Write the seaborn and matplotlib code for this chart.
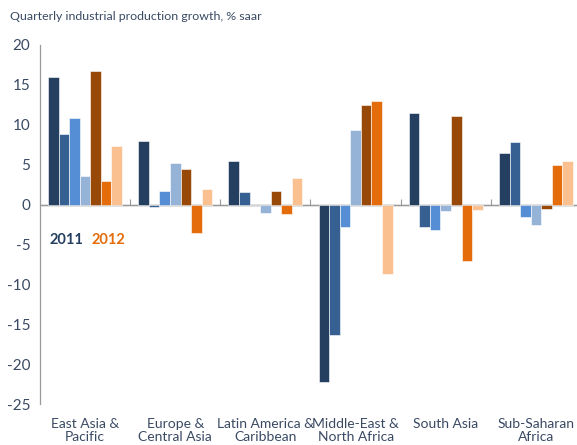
import matplotlib
matplotlib.use("Agg")
import matplotlib.pyplot as plt
import seaborn as sns
import pandas as pd

regions = ["East Asia &\nPacific", "Europe &\nCentral Asia", "Latin America &\nCaribbean",
           "Middle-East &\nNorth Africa", "South Asia", "Sub-Saharan\nAfrica"]
quarters = ["Q1 2011", "Q2 2011", "Q3 2011", "Q4 2011", "Q1 2012", "Q2 2012", "Q3 2012"]
q1_2011 = [16.0, 8.0, 5.5, -22.2, 11.5, 6.5]
q2_2011 = [8.8, -0.3, 1.6, -16.3, -2.8, 7.9]
q3_2011 = [10.8, 1.7, -0.1, -2.8, -3.2, -1.6]
q4_2011 = [3.6, 5.2, -1.0, 9.4, -0.8, -2.6]
q1_2012 = [16.7, 4.5, 1.7, 12.5, 11.1, -0.6]
q2_2012 = [2.9, -3.6, -1.2, 13.0, -7.1, 4.9]
q3_2012 = [7.3, 1.9, 3.3, -8.7, -0.7, 5.4]
colors = ["#243F60", "#366092", "#558ED5", "#95B3D7", "#984807", "#E46C0A", "#FAC090"]
yticks = [20, 15, 10, 5, 0, -5, -10, -15, -20, -25]
title = "Quarterly industrial production growth, % saar"

series = [q1_2011, q2_2011, q3_2011, q4_2011, q1_2012, q2_2012, q3_2012]
rows = []
for q, vals in zip(quarters, series):
    for r, v in zip(regions, vals):
        rows.append({"region": r, "quarter": q, "value": v})
df = pd.DataFrame(rows)

sns.set_style("white")
plt.rcParams["font.family"] = ["Lato", "DejaVu Sans"]
plt.rcParams["axes.unicode_minus"] = False
txt = "#3A4A63"

fig = plt.figure(figsize=(5.77, 4.45), dpi=100)
ax = fig.add_axes([40/577, 1-404/445, 541/577, (404-45)/445])
sns.barplot(data=df, x="region", y="value", hue="quarter", order=regions,
            hue_order=quarters, palette=colors, saturation=1, width=0.82, gap=0,
            edgecolor="white", linewidth=0.4, legend=False, ax=ax)

ax.set_xlim(-0.5, len(regions) - 0.5)
ax.set_ylim(-25, 20)
ax.set_yticks(yticks)
ax.set_yticklabels([str(v) for v in yticks])
ax.tick_params(axis="y", labelsize=11, colors="#888888", labelcolor=txt,
               length=4, width=0.8, direction="out", pad=3)
ax.tick_params(axis="x", labelsize=10, labelcolor=txt, length=0, pad=10)
for lab in ax.get_yticklabels():
    lab.set_color(txt)
for lab in ax.get_xticklabels():
    lab.set_linespacing(1.15)
ax.set_xlabel("")
ax.set_ylabel("")
for s in ["top", "right", "bottom"]:
    ax.spines[s].set_visible(False)
ax.spines["left"].set_color("#9a9a9a")
ax.spines["left"].set_linewidth(0.9)
ax.axhline(0, color="#9a9a9a", lw=1.0, zorder=0.5)

# group-boundary ticks on the zero line
sec = ax.secondary_xaxis(25/45)
sec.set_xticks([i + 0.5 for i in range(len(regions))])
sec.set_xticklabels([])
sec.tick_params(length=4, width=0.8, color="#9a9a9a", direction="out")
sec.spines["bottom"].set_visible(False)

fig.text(10/577, 1-17/445, title, fontsize=8.9, color=txt, va="center", ha="left")
fig.text(50/577, 1-240/445, "2011", fontsize=10.5, fontweight="bold", color="#243F60", va="center")
fig.text(91/577, 1-240/445, "2012", fontsize=10.5, fontweight="bold", color="#E46C0A", va="center")

fig.savefig("out.png", dpi=100)
